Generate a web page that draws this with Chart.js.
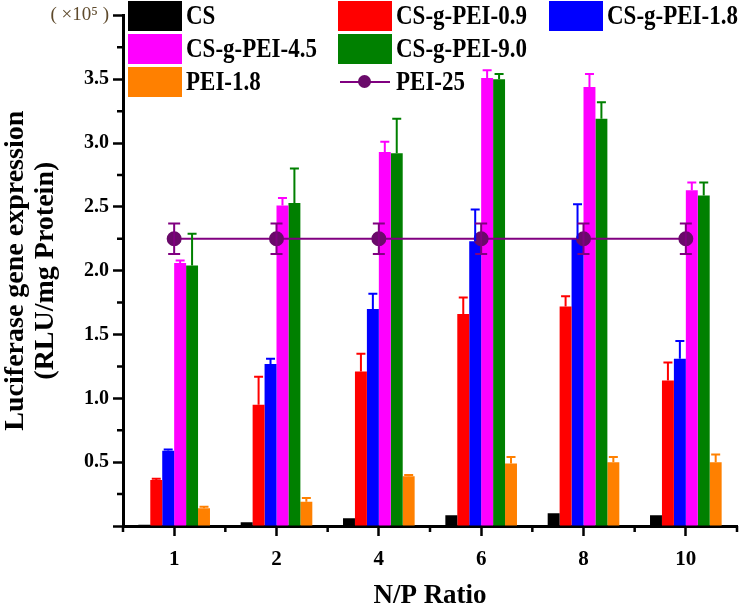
<!DOCTYPE html>
<html>
<head>
<meta charset="utf-8">
<script src="https://cdn.jsdelivr.net/npm/chart.js@4.4.0/dist/chart.umd.min.js"></script>
<style>
  html, body { margin: 0; padding: 0; background: #fff; }
  #wrap { position: relative; width: 748px; height: 612px; }
  #legend { position: absolute; left: 0; top: 0; width: 748px; height: 100px; pointer-events: none; }
  .item { position: absolute; display: flex; align-items: center; height: 31px;
          font: bold 23px 'Liberation Serif', serif; color: #000; white-space: nowrap; }
  .swatch { position: relative; width: 54px; height: 30px; margin-right: 4px; }
  .txt { display: inline-block; transform: scaleY(1.2); }
</style>
</head>
<body>
<div id="wrap">
  <canvas id="chart"></canvas>
  <div id="legend"></div>
</div>
<script>
// N/P ratios (x categories)
const ratios = ['1', '2', '4', '6', '8', '10'];

// Luciferase expression, x10^5 RLU/mg protein
const cs       = [0.01, 0.03, 0.06, 0.085, 0.10, 0.085];
const csErr    = [0, 0, 0, 0, 0, 0];
const pei09    = [0.36, 0.95, 1.21, 1.66, 1.72, 1.14];
const pei09Err = [0.01, 0.22, 0.14, 0.13, 0.08, 0.14];
const pei18g   = [0.59, 1.27, 1.70, 2.23, 2.25, 1.31];
const pei18gErr= [0.01, 0.04, 0.12, 0.25, 0.27, 0.14];
const pei45    = [2.06, 2.51, 2.93, 3.51, 3.44, 2.63];
const pei45Err = [0.02, 0.06, 0.08, 0.06, 0.10, 0.06];
const pei90    = [2.04, 2.53, 2.92, 3.50, 3.19, 2.59];
const pei90Err = [0.25, 0.27, 0.27, 0.04, 0.13, 0.10];
const pei18    = [0.14, 0.19, 0.39, 0.49, 0.50, 0.50];
const pei18Err = [0.01, 0.03, 0.01, 0.05, 0.04, 0.06];
const pei25    = [2.25, 2.25, 2.25, 2.25, 2.25, 2.25];
const pei25Err = [0.12, 0.12, 0.12, 0.12, 0.12, 0.12];

const FONT = "'Liberation Serif', 'Times New Roman', serif";

function bar(label, data, errors, color) {
    return { label, data, errors, backgroundColor: color, borderColor: color, borderWidth: 0, order: 1 };
}

const isTopTick = c => c.tick && c.tick.value === 4;

// draws one-sided error bars on the bars, two-sided on the line
const errorBars = {
    id: 'errorBars',
    afterDatasetsDraw(chart) {
        const ctx = chart.ctx, y = chart.scales.y;
        chart.data.datasets.forEach((ds, i) => {
            if (!ds.errors) return;
            const meta = chart.getDatasetMeta(i);
            const isLine = ds.type === 'line';
            ctx.save();
            ctx.strokeStyle = ds.borderColor;
            ctx.lineWidth = 2;
            meta.data.forEach((el, j) => {
                const v = ds.data[j], e = ds.errors[j];
                if (!e) return;
                const top = y.getPixelForValue(v + e);
                const bottom = isLine ? y.getPixelForValue(v - e) : el.y;
                const cap = isLine ? 6 : 4.5;
                ctx.beginPath();
                ctx.moveTo(el.x, bottom); ctx.lineTo(el.x, top);
                ctx.moveTo(el.x - cap, top); ctx.lineTo(el.x + cap, top);
                if (isLine) { ctx.moveTo(el.x - cap, bottom); ctx.lineTo(el.x + cap, bottom); }
                ctx.stroke();
            });
            ctx.restore();
        });
    }
};

// short minor ticks between the labelled ones
const minorTicks = {
    id: 'minorTicks',
    afterDraw(chart) {
        const ctx = chart.ctx, x = chart.scales.x, y = chart.scales.y;
        ctx.save();
        ctx.strokeStyle = '#000';
        ctx.lineWidth = 2.5;
        ctx.beginPath();
        for (let v = 0.25; v < y.max; v += 0.5) {
            const py = y.getPixelForValue(v);
            ctx.moveTo(x.left, py); ctx.lineTo(x.left - 6, py);
        }
        const half = (x.getPixelForValue(1) - x.getPixelForValue(0)) / 2;
        for (let i = 0; i <= ratios.length; i++) {
            const px = x.getPixelForValue(0) - half + i * 2 * half;
            ctx.moveTo(px, y.bottom); ctx.lineTo(px, y.bottom + 6);
        }
        ctx.stroke();
        ctx.restore();
    }
};

const chart = new Chart(document.getElementById('chart'), {
    type: 'bar',
    data: {
        labels: ratios,
        datasets: [
            bar('CS', cs, csErr, '#000000'),
            bar('CS-g-PEI-0.9', pei09, pei09Err, '#ff0000'),
            bar('CS-g-PEI-1.8', pei18g, pei18gErr, '#0000ff'),
            bar('CS-g-PEI-4.5', pei45, pei45Err, '#ff00ff'),
            bar('CS-g-PEI-9.0', pei90, pei90Err, '#008000'),
            bar('PEI-1.8', pei18, pei18Err, '#ff8000'),
            {
                type: 'line',
                label: 'PEI-25',
                data: pei25,
                errors: pei25Err,
                borderColor: '#800080',
                borderWidth: 2,
                pointRadius: 6.5,
                pointBackgroundColor: '#6a0a6a',
                pointBorderColor: '#6a0a6a',
                order: 0
            }
        ]
    },
    options: {
        responsive: true,
        maintainAspectRatio: false,
        animation: false,
        layout: { padding: { top: 15, right: 11, left: 0, bottom: 0 } },
        datasets: { bar: { categoryPercentage: 0.7, barPercentage: 1.0 } },
        plugins: { legend: { display: false }, tooltip: { enabled: false } },
        scales: {
            x: {
                offset: true,
                border: { color: '#000', width: 3 },
                grid: { offset: false, drawOnChartArea: false, drawTicks: true, tickLength: 10, tickColor: '#000', tickWidth: 2.5 },
                ticks: { color: '#000', padding: 11, font: { family: FONT, size: 21, weight: 'bold' } },
                title: { display: true, text: 'N/P Ratio', color: '#000', padding: { top: 4, bottom: 0 },
                         font: { family: FONT, size: 27, weight: 'bold' } },
                afterFit(scale) { scale.height = 86; }
            },
            y: {
                min: 0,
                max: 4,
                border: { color: '#000', width: 3 },
                grid: { drawOnChartArea: false, drawTicks: true, tickLength: 10, tickColor: '#000', tickWidth: 2.5 },
                ticks: {
                    stepSize: 0.5,
                    padding: 4,
                    color: c => isTopTick(c) ? '#5e4a2c' : '#000',
                    font: c => isTopTick(c)
                        ? { family: FONT, size: 19, weight: 'normal' }
                        : { family: FONT, size: 20, weight: 'bold' },
                    callback: v => v === 0 ? '' : (v === 4 ? '( \u00d710\u2075 )' : v.toFixed(1))
                },
                title: {
                    display: true,
                    text: ['Luciferase gene expression', '(RLU/mg Protein)'],
                    color: '#000',
                    padding: { top: 0, bottom: 4 },
                    font: { family: FONT, size: 28, weight: 'bold', lineHeight: 1.1 }
                },
                afterFit(scale) { scale.width = 123; }
            }
        }
    },
    plugins: [errorBars, minorTicks]
});

// HTML legend laid out in the figure's three columns
const legendSlots = [[128, 0], [338, 0], [549, 0], [128, 33], [338, 33], [128, 66], [338, 66]];
const legendEl = document.getElementById('legend');
chart.data.datasets.forEach((ds, i) => {
    const item = document.createElement('div');
    item.className = 'item';
    item.style.left = legendSlots[i][0] + 'px';
    item.style.top = legendSlots[i][1] + 'px';
    const sw = document.createElement('div');
    sw.className = 'swatch';
    if (ds.type === 'line') {
        sw.innerHTML = '<div style="position:absolute;left:2px;right:2px;top:14px;height:2px;background:' + ds.borderColor + '"></div>' +
            '<div style="position:absolute;left:20px;top:8px;width:13px;height:13px;border-radius:50%;background:' + ds.pointBackgroundColor + '"></div>';
    } else {
        sw.style.background = ds.backgroundColor;
    }
    const txt = document.createElement('span');
    txt.className = 'txt';
    txt.textContent = ds.label;
    item.appendChild(sw);
    item.appendChild(txt);
    legendEl.appendChild(item);
});
</script>
</body>
</html>
